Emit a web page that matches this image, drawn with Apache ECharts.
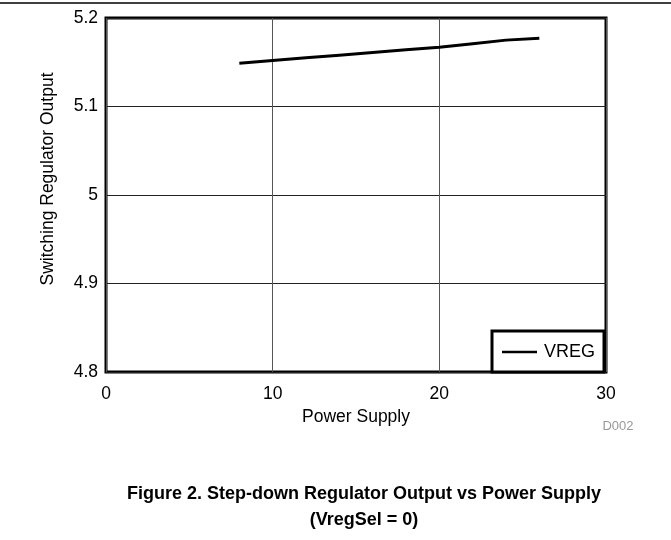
<!DOCTYPE html>
<html>
<head>
<meta charset="utf-8">
<script src="https://cdn.jsdelivr.net/npm/echarts@6/dist/echarts.min.js"></script>
<style>
html,body{margin:0;padding:0;background:#fff;}
#chart{width:671px;height:540px;}
</style>
</head>
<body>
<div id="chart"></div>
<script>
const supplyVoltage = [8, 10, 12, 14, 16, 18, 20, 22, 24, 26];
const vregOutput = [5.149, 5.152, 5.155, 5.158, 5.161, 5.164, 5.167, 5.171, 5.175, 5.177];
const seriesName = 'VREG';
const xAxisName = 'Power Supply';
const yAxisName = 'Switching Regulator Output';
const captionLine1 = 'Figure 2. Step-down Regulator Output vs Power Supply';
const captionLine2 = '(VregSel = 0)';
const figureId = 'D002';

const FONT = 'Liberation Sans, Arial, Helvetica, sans-serif';
const chart = echarts.init(document.getElementById('chart'), null, {renderer: 'canvas'});
const data = supplyVoltage.map((x, i) => [x, vregOutput[i]]);

chart.setOption({
  animation: false,
  backgroundColor: '#fff',
  textStyle: {fontFamily: FONT},
  grid: {left: 106, top: 18, width: 500, height: 354, show: true,
         borderColor: '#000', borderWidth: 3, backgroundColor: 'transparent'},
  xAxis: {
    type: 'value', min: 0, max: 30, interval: 10,
    name: xAxisName, nameLocation: 'middle', nameGap: 31,
    nameTextStyle: {color: '#000', fontSize: 17.5, fontFamily: FONT},
    axisLine: {show: false}, axisTick: {show: false},
    axisLabel: {color: '#000', fontSize: 17.5, margin: 13, fontFamily: FONT},
    splitLine: {show: true, lineStyle: {color: '#555', width: 1}}
  },
  yAxis: {
    type: 'value', min: 4.8, max: 5.2, interval: 0.1,
    axisLine: {show: false}, axisTick: {show: false},
    axisLabel: {color: '#000', fontSize: 17.5, margin: 8, fontFamily: FONT,
      formatter: v => String(Math.round(v * 10) / 10)},
    splitLine: {show: true, lineStyle: {color: '#222', width: 1}}
  },
  legend: {
    data: [seriesName], left: 492, top: 331,
    orient: 'horizontal', icon: 'rect',
    backgroundColor: '#fff', borderColor: '#000', borderWidth: 3, borderRadius: 0,
    padding: [11, 9, 10, 10],
    itemWidth: 35, itemHeight: 2.5, itemGap: 8,
    textStyle: {color: '#000', fontSize: 18, lineHeight: 20, fontFamily: FONT, padding: [0, 0, 0, 2]}
  },
  series: [{
    name: seriesName, type: 'line', data: data, symbol: 'none', smooth: false,
    lineStyle: {color: '#000', width: 3}, itemStyle: {color: '#000'}
  }],
  graphic: [
    {type: 'line', shape: {x1: 0, y1: 3, x2: 671, y2: 3}, style: {stroke: '#000', lineWidth: 1.5}},
    {type: 'text', x: 48, y: 179, rotation: Math.PI / 2,
     style: {text: yAxisName, fill: '#000', font: '17.5px ' + FONT, textAlign: 'center', textVerticalAlign: 'middle'}},
    {type: 'text', x: 618, y: 426,
     style: {text: figureId, fill: '#999', font: '13px ' + FONT, textAlign: 'center', textVerticalAlign: 'middle'}},
    {type: 'text', x: 364, y: 494,
     style: {text: captionLine1, fill: '#000', font: 'bold 18px ' + FONT, textAlign: 'center', textVerticalAlign: 'middle'}},
    {type: 'text', x: 364, y: 520,
     style: {text: captionLine2, fill: '#000', font: 'bold 18px ' + FONT, textAlign: 'center', textVerticalAlign: 'middle'}}
  ]
});
</script>
</body>
</html>
